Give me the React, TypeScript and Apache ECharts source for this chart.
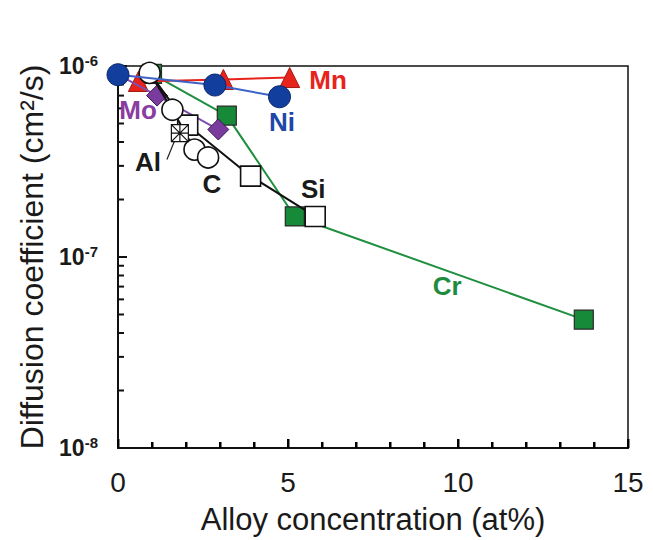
import React, { useEffect, useRef } from "react";
import * as echarts from "echarts";

// ---- data ----
const niX = [0, 2.85, 4.75];
const niY = [9.0e-7, 7.95e-7, 6.9e-7];

const mnX = [0.6, 3.1, 5.05];
const mnY = [8.3e-7, 8.5e-7, 8.7e-7];

const moX = [0, 1.15, 2.95];
const moY = [9.0e-7, 7.0e-7, 4.65e-7];

const crX = [1.0, 3.2, 5.2, 13.7];
const crY = [9.1e-7, 5.5e-7, 1.63e-7, 4.7e-8];

const cX = [0.93, 1.6, 2.25, 2.65];
const cY = [9.2e-7, 5.9e-7, 3.65e-7, 3.32e-7];

const siX = [0.93, 2.05, 3.9, 5.8];
const siY = [9.2e-7, 4.9e-7, 2.65e-7, 1.63e-7];

const alX = [1.82];
const alY = [4.45e-7];

const labelNames = ["Mn", "Ni", "Mo", "Al", "C", "Si", "Cr"];
const labelX = [6.18, 4.82, 0.59, 0.88, 2.76, 5.74, 9.68];
const labelY = [8.45e-7, 5.1e-7, 5.9e-7, 3.13e-7, 2.4e-7, 2.26e-7, 7.06e-8];
const labelColors = ["#e8231b", "#1e47a8", "#8a3ca0", "#1a1a1a", "#1a1a1a", "#1a1a1a", "#1e8c3e"];

const alLeaderX = [1.44, 1.68];
const alLeaderY = [3.24e-7, 4.12e-7];

// tick positions
const xMajorTicks = [0, 5, 10, 15];
const xMinorTicks = [1, 2, 3, 4, 6, 7, 8, 9, 11, 12, 13, 14];
const yMajorTicks = [1e-8, 1e-7, 1e-6];
const yMinorTicks = [
  2e-8, 3e-8, 4e-8, 5e-8, 6e-8, 7e-8, 8e-8, 9e-8,
  2e-7, 3e-7, 4e-7, 5e-7, 6e-7, 7e-7, 8e-7, 9e-7,
];

const FONT = "'Liberation Sans', Arial, Helvetica, sans-serif";

const pts = (xs: number[], ys: number[]) => xs.map((x, i) => [x, ys[i]]);

const xTickLen = [...xMajorTicks.map(() => 9), ...xMinorTicks.map(() => 6)];
const xTickData = [...xMajorTicks, ...xMinorTicks].map((x) => [x, 1e-7]);
const yTickLen = [...yMajorTicks.map(() => 9), ...yMinorTicks.map(() => 6)];
const yTickData = [...yMajorTicks, ...yMinorTicks].map((y) => [0, y]);

export default function App() {
  const ref = useRef<HTMLDivElement>(null);

  useEffect(() => {
    if (!ref.current) return;
    const chart = echarts.init(ref.current, null, { renderer: "svg" });

    const option: any = {
      animation: false,
      backgroundColor: "#ffffff",
      grid: {
        left: 118,
        right: 25,
        top: 66,
        bottom: 90,
        show: true,
        borderColor: "#111",
        borderWidth: 1.5,
        backgroundColor: "transparent",
      },
      xAxis: {
        type: "value",
        min: 0,
        max: 15,
        interval: 5,
        name: "Alloy concentration (at%)",
        nameLocation: "middle",
        nameGap: 56,
        nameTextStyle: { fontFamily: FONT, fontSize: 31, color: "#1a1a1a" },
        axisLine: { show: true, onZero: false, lineStyle: { color: "#111", width: 2 } },
        axisTick: { show: true, inside: true, length: 9, lineStyle: { color: "#000", width: 2 } },
        minorTick: { show: true, splitNumber: 5, length: 6, lineStyle: { color: "#000", width: 2 } },
        axisLabel: { fontFamily: FONT, fontSize: 28, color: "#1a1a1a", margin: 20 },
        splitLine: { show: false },
      },
      yAxis: {
        type: "log",
        logBase: 10,
        min: 1e-8,
        max: 1e-6,
        name: "Diffusion coefficient (cm²/s)",
        nameLocation: "middle",
        nameGap: 70,
        nameTextStyle: { fontFamily: FONT, fontSize: 32, color: "#1a1a1a" },
        axisLine: { show: true, lineStyle: { color: "#111", width: 2 } },
        axisTick: { show: false },
        axisLabel: {
          margin: 20,
          formatter: (v: number) => `{b|10}{s|${Math.round(Math.log10(v))}}`,
          rich: {
            b: { fontFamily: FONT, fontSize: 23, fontWeight: "bold", color: "#1a1a1a", lineHeight: 26 },
            s: {
              fontFamily: FONT,
              fontSize: 15,
              fontWeight: "bold",
              color: "#1a1a1a",
              verticalAlign: "top",
              lineHeight: 14,
              padding: [0, 0, 10, 0],
            },
          },
        },
        splitLine: { show: false },
      },
      series: [
        {
          name: "xTicks",
          type: "custom",
          silent: true,
          clip: false,
          data: xTickData,
          encode: { x: 0, y: 1 },
          renderItem: (params: any, api: any) => {
            const p = api.coord([api.value(0), api.value(1)]);
            const cs = params.coordSys;
            const bottom = cs.y + cs.height;
            const len = xTickLen[params.dataIndex];
            return {
              type: "rect",
              shape: { x: Math.round(p[0]) - 1, y: bottom - len, width: 2.5, height: len },
              style: { fill: "#000" },
            };
          },
          z: 1,
        },
        {
          name: "yTicks",
          type: "custom",
          silent: true,
          clip: false,
          data: yTickData,
          encode: { x: 0, y: 1 },
          renderItem: (params: any, api: any) => {
            const p = api.coord([api.value(0), api.value(1)]);
            const len = yTickLen[params.dataIndex];
            return {
              type: "line",
              shape: { x1: p[0], y1: p[1], x2: p[0] + len, y2: p[1] },
              style: { stroke: "#111", lineWidth: 2 },
            };
          },
          z: 1,
        },
        {
          name: "Cr",
          type: "line",
          data: pts(crX, crY),
          symbol: "rect",
          symbolSize: 19,
          lineStyle: { color: "#1f8f3f", width: 2 },
          itemStyle: { color: "#178a3a", borderColor: "#2a2a2a", borderWidth: 1.2 },
          z: 2,
        },
        {
          name: "Mn",
          type: "line",
          data: pts(mnX, mnY),
          symbol: "triangle",
          symbolSize: 20,
          lineStyle: { color: "#e8231b", width: 2 },
          itemStyle: { color: "#e8231b", borderColor: "#a01810", borderWidth: 1 },
          z: 3,
        },
        {
          name: "Mo",
          type: "line",
          data: pts(moX, moY).map((p, i) => (i === 0 ? { value: p, symbol: "none" } : p)),
          symbol: "diamond",
          symbolSize: 21,
          lineStyle: { color: "#7f4fb0", width: 2 },
          itemStyle: { color: "#7a3b9e", borderColor: "#3a1a55", borderWidth: 1 },
          z: 4,
        },
        {
          name: "Si",
          type: "line",
          data: pts(siX, siY).map((p, i) => (i === 0 ? { value: p, symbol: "none" } : p)),
          symbol: "rect",
          symbolSize: 20,
          lineStyle: { color: "#111", width: 2 },
          itemStyle: { color: "#ffffff", borderColor: "#111", borderWidth: 1.6 },
          z: 5,
        },
        {
          name: "C",
          type: "line",
          data: pts(cX, cY),
          symbol: "circle",
          symbolSize: 21,
          lineStyle: { color: "#111", width: 2 },
          itemStyle: { color: "#ffffff", borderColor: "#111", borderWidth: 1.6 },
          z: 6,
        },
        {
          name: "Al",
          type: "scatter",
          data: pts(alX, alY),
          symbol: "path://M0,0H10V10H0Z M0,0L10,10 M10,0L0,10 M5,0L5,10 M0,5L10,5",
          symbolSize: 17,
          itemStyle: { color: "#ffffff", borderColor: "#111", borderWidth: 1.2, opacity: 1 },
          z: 7,
        },
        {
          name: "AlLeader",
          type: "line",
          data: pts(alLeaderX, alLeaderY),
          symbol: "none",
          lineStyle: { color: "#222", width: 1.2 },
          silent: true,
          z: 7,
        },
        {
          name: "Ni",
          type: "line",
          data: pts(niX, niY),
          symbol: "circle",
          symbolSize: 22,
          lineStyle: { color: "#3d62c8", width: 2 },
          itemStyle: { color: "#123f9e", borderColor: "#0a2768", borderWidth: 1 },
          z: 8,
        },
        {
          name: "labels",
          type: "scatter",
          silent: true,
          symbolSize: 0.1,
          itemStyle: { color: "rgba(0,0,0,0)", opacity: 1 },
          data: labelNames.map((n, i) => ({
            name: n,
            value: [labelX[i], labelY[i]],
            label: { color: labelColors[i] },
          })),
          label: {
            show: true,
            position: "inside",
            formatter: (p: any) => p.name,
            fontFamily: FONT,
            fontSize: 26,
            fontWeight: "bold",
            opacity: 1,
          },
          z: 9,
        },
      ],
    };

    chart.setOption(option);
    return () => chart.dispose();
  }, []);

  return <div ref={ref} style={{ width: 653, height: 540, marginLeft: -8, marginTop: -8 }} />;
}
